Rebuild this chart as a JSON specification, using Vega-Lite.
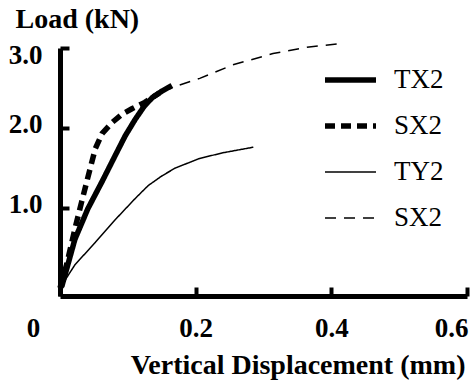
{
  "$schema": "https://vega.github.io/schema/vega-lite/v6.json",
  "width": 407,
  "height": 248,
  "autosize": {"type": "none"},
  "padding": {"left": 60, "top": 48, "right": 7, "bottom": 85},
  "background": "white",
  "config": {"view": {"stroke": null}, "font": "Liberation Serif, Times New Roman, serif"},
  "data": {
    "values": [
      {"series": "TX2", "x": 0.0, "y": 0.0},
      {"series": "TX2", "x": 0.003, "y": 0.03},
      {"series": "TX2", "x": 0.022, "y": 0.61},
      {"series": "TX2", "x": 0.041, "y": 0.99},
      {"series": "TX2", "x": 0.062, "y": 1.33},
      {"series": "TX2", "x": 0.081, "y": 1.65},
      {"series": "TX2", "x": 0.096, "y": 1.9},
      {"series": "TX2", "x": 0.111, "y": 2.11},
      {"series": "TX2", "x": 0.124, "y": 2.27},
      {"series": "TX2", "x": 0.136, "y": 2.38},
      {"series": "TX2", "x": 0.15, "y": 2.46},
      {"series": "TX2", "x": 0.165, "y": 2.53},
      {"series": "SX2a", "x": 0.0, "y": 0.0},
      {"series": "SX2a", "x": 0.01, "y": 0.3},
      {"series": "SX2a", "x": 0.022, "y": 0.74},
      {"series": "SX2a", "x": 0.032, "y": 1.08},
      {"series": "SX2a", "x": 0.041, "y": 1.38},
      {"series": "SX2a", "x": 0.052, "y": 1.74},
      {"series": "SX2a", "x": 0.062, "y": 1.93},
      {"series": "SX2a", "x": 0.077, "y": 2.07},
      {"series": "SX2a", "x": 0.091, "y": 2.17},
      {"series": "SX2a", "x": 0.106, "y": 2.24},
      {"series": "SX2a", "x": 0.125, "y": 2.32},
      {"series": "SX2a", "x": 0.147, "y": 2.44},
      {"series": "TY2", "x": 0.0, "y": 0.0},
      {"series": "TY2", "x": 0.022, "y": 0.29},
      {"series": "TY2", "x": 0.052, "y": 0.57},
      {"series": "TY2", "x": 0.081, "y": 0.85},
      {"series": "TY2", "x": 0.111, "y": 1.12},
      {"series": "TY2", "x": 0.13, "y": 1.28},
      {"series": "TY2", "x": 0.15, "y": 1.4},
      {"series": "TY2", "x": 0.17, "y": 1.5},
      {"series": "TY2", "x": 0.206, "y": 1.62},
      {"series": "TY2", "x": 0.24, "y": 1.69},
      {"series": "TY2", "x": 0.285, "y": 1.76},
      {"series": "SX2b", "x": 0.15, "y": 2.46},
      {"series": "SX2b", "x": 0.167, "y": 2.51},
      {"series": "SX2b", "x": 0.206, "y": 2.62},
      {"series": "SX2b", "x": 0.255, "y": 2.79},
      {"series": "SX2b", "x": 0.314, "y": 2.93},
      {"series": "SX2b", "x": 0.364, "y": 3.01},
      {"series": "SX2b", "x": 0.409, "y": 3.05}
    ]
  },
  "mark": {"type": "line", "color": "black", "strokeCap": "butt"},
  "encoding": {
    "x": {
      "field": "x",
      "type": "quantitative",
      "scale": {"domain": [0, 0.6], "nice": false, "zero": false},
      "axis": {
        "values": [0, 0.2, 0.4, 0.6],
        "format": ".1f",
        "labelExpr": "datum.value == 0 ? '0' : datum.label",
        "labelFlush": false,
        "labelOverlap": false,
        "labelOffset": {"condition": [{"test": "datum.value == 0", "value": -27}, {"test": "datum.value == 0.6", "value": -16}], "value": 0},
        "grid": false,
        "domainColor": "black",
        "domainWidth": 5,
        "tickColor": "black",
        "tickWidth": 4,
        "tickSize": -9,
        "labelPadding": 28,
        "labelFont": "Liberation Serif, Times New Roman, serif",
        "labelFontSize": 27,
        "labelFontWeight": "bold",
        "labelColor": "black",
        "labelBaseline": "top",
        "title": "Vertical Displacement (mm)",
        "titleFont": "Liberation Serif, Times New Roman, serif",
        "titleFontSize": 28,
        "titleFontWeight": "bold",
        "titleColor": "black",
        "titleAlign": "right",
        "titleAnchor": null,
        "titleBaseline": "alphabetic",
        "titleX": 405,
        "titleY": 77
      }
    },
    "y": {
      "field": "y",
      "type": "quantitative",
      "scale": {"domain": [-0.1, 3.0], "nice": false, "zero": false},
      "axis": {
        "values": [1, 2, 3],
        "format": ".1f",
        "labelFlush": false,
        "labelOverlap": false,
        "labelOffset": {"condition": {"test": "datum.value == 3", "value": 7}, "value": -4},
        "grid": false,
        "domainColor": "black",
        "domainWidth": 5,
        "tickColor": "black",
        "tickWidth": 4,
        "tickSize": -9,
        "labelPadding": 27,
        "labelFont": "Liberation Serif, Times New Roman, serif",
        "labelFontSize": 27,
        "labelFontWeight": "bold",
        "labelColor": "black",
        "title": "Load (kN)",
        "titleFont": "Liberation Serif, Times New Roman, serif",
        "titleFontSize": 28,
        "titleFontWeight": "bold",
        "titleColor": "black",
        "titleAngle": 0,
        "titleAlign": "left",
        "titleAnchor": null,
        "titleBaseline": "alphabetic",
        "titleX": -45,
        "titleY": -21
      }
    },
    "strokeDash": {
      "field": "series",
      "type": "nominal",
      "scale": {"domain": ["TX2", "SX2a", "TY2", "SX2b"], "range": [[1, 0], [10, 6], [1, 0], [11, 8]]},
      "legend": {
        "title": null,
        "orient": "none",
        "legendX": 262,
        "legendY": 9,
        "symbolType": "stroke",
        "symbolSize": 2600,
        "symbolStrokeColor": "black",
        "labelExpr": "datum.value == 'SX2a' ? '\u00a0SX2' : datum.value == 'SX2b' ? 'SX2' : datum.label",
        "labelFont": "Liberation Serif, Times New Roman, serif",
        "labelFontSize": 27,
        "labelColor": "black",
        "labelOffset": 15,
        "clipHeight": 46,
        "rowPadding": 0
      }
    },
    "strokeWidth": {
      "field": "series",
      "type": "nominal",
      "scale": {"type": "ordinal", "domain": ["TX2", "SX2a", "TY2", "SX2b"], "range": [5.5, 5.5, 1.5, 1.5]}
    }
  }
}
